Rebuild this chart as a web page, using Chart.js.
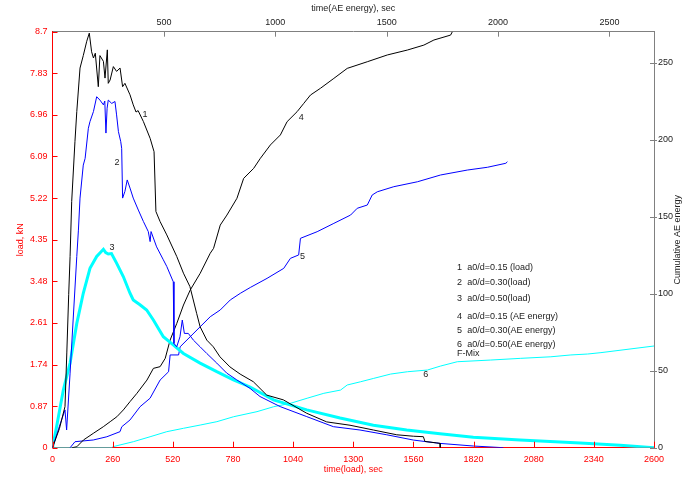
<!DOCTYPE html>
<html>
<head>
<meta charset="utf-8">
<script src="https://cdn.jsdelivr.net/npm/chart.js@4.4.1/dist/chart.umd.min.js"></script>
<style>
  body{margin:0;background:#fff}
</style>
</head>
<body>
<canvas id="myChart" width="689" height="479"></canvas>
<script>
// tick labels
var leftTicks = [0,0.87,1.74,2.61,3.48,4.35,5.22,6.09,6.96,7.83,8.7];
var bottomTicks = [0,260,520,780,1040,1300,1560,1820,2080,2340,2600];
var topTicks = [500,1000,1500,2000,2500];
var rightTicks = [0,50,100,150,200,250];

// 1 a0/d=0.15 (load)  - time(load) sec / kN
var load1Time = [0,30,54,62,70,76,83,97,105,119,133,148,159,169,177,185,198,205,220,227,237,241,249,263,277,292,303,313,335,349,361,370,393,422,439,447,465,494,537,566,594,623,638,667,695,724,767,811,868,926,998,1099,1185,1286,1387,1488,1560,1603,1610,1661,1675,1676];
var load1Value = [0,0.4,0.86,2.0,3.2,4.0,5.15,6.4,7.03,7.94,8.2,8.5,8.67,8.28,8.15,8.25,7.55,8.2,8.08,7.73,8.32,7.62,7.69,7.97,7.87,7.94,7.55,7.62,7.38,7.17,7.02,7.05,6.82,6.47,6.19,4.94,4.73,4.45,4.0,3.65,3.37,2.81,2.53,2.25,2.11,1.9,1.69,1.54,1.38,1.1,1.0,0.72,0.54,0.47,0.37,0.27,0.24,0.23,0.13,0.1,0.09,0];

// 2 a0/d=0.30 (load)
var load2Time = [0,30,54,61,76,105,112,119,133,141,155,162,177,191,205,220,226,231,236,241,256,270,277,285,295,299,303,313,323,335,349,371,393,414,422,426,450,479,494,522,525,537,551,561,570,587,609,638,667,710,753,796,854,897,984,1099,1214,1329,1445,1560,1675,1819,1949];
var load2Value = [0,0.45,0.79,0.37,1.56,4.0,4.55,5.22,5.91,6.05,6.68,6.82,7.03,7.34,7.27,7.17,7.25,6.58,7.1,7.27,7.2,7.24,6.96,6.61,6.4,6.26,5.22,5.36,5.6,5.43,5.22,4.97,4.73,4.52,4.31,4.52,4.2,3.93,3.79,3.47,2.18,2.11,2.32,2.67,2.39,2.39,2.25,2.11,1.97,1.77,1.56,1.42,1.24,1.07,0.86,0.65,0.44,0.37,0.27,0.16,0.09,0.035,0];

// 3 a0/d=0.50 (load)
var load3Time = [0,20,47,76,105,133,162,191,220,230,241,255,277,306,335,349,378,407,436,479,522,566,638,710,782,854,955,1099,1243,1387,1531,1675,1819,2021,2281,2454,2600];
var load3Value = [0,0.5,1.21,1.77,2.6,3.23,3.75,4.0,4.15,4.08,4.05,4.06,3.86,3.58,3.23,3.09,2.99,2.88,2.67,2.32,2.15,1.97,1.77,1.59,1.42,1.27,1.0,0.79,0.62,0.47,0.37,0.29,0.22,0.16,0.1,0.05,0];

// 4 a0/d=0.15 (AE energy) - time(AE energy) sec / cumulative AE
var ae4Time = [88,109,139,183,228,259,289,318,348,379,424,453,483,506,528,558,588,618,663,708,723,753,783,828,858,903,933,978,1023,1053,1098,1128,1158,1203,1263,1323,1413,1503,1593,1667,1712,1787,1795];
var ae4Value = [0,0.6,5,9.3,13.6,16.9,20.1,24.5,29.9,35.3,43.9,51.5,52.6,58,69.9,80.7,92.6,102.3,113.2,126.2,129.4,144.5,151,161.9,174.8,181.3,187.8,196.5,203,211.6,218.1,223.5,228.9,233.3,239.7,246.2,250.5,254.9,258.1,261.3,264.6,267.8,270];

// 5 a0/d=0.30 (AE energy)
var ae5Time = [79,101,183,244,303,311,348,393,438,483,521,528,566,573,618,663,708,753,798,843,888,963,1038,1068,1105,1113,1188,1263,1338,1368,1413,1435,1458,1532,1638,1742,1862,1952,2035,2042];
var ae5Value = [0,3.9,5,7.1,10.4,13.6,18,26.6,32.1,43.9,49.3,60.2,60.2,65.5,72,78.5,85,89.4,95.9,100.2,104,109.9,116.4,122.9,125.1,135.9,140.2,145.6,151,155.4,157.5,164,166.1,169.4,172.6,177,180.2,182,184.6,185.6];

// 6 a0/d=0.50 (AE energy)
var ae6Time = [0,266,270,363,438,513,588,663,738,813,918,993,1068,1143,1218,1293,1323,1383,1442,1518,1593,1683,1742,1817,1967,2102,2237,2327,2402,2462,2700];
var ae6Value = [0,0,0.6,3.9,7.1,10.4,12.6,14.7,16.9,20.1,23.4,26.6,28.8,32.1,35.3,37.4,40.7,42.8,45,47.8,49.3,50.4,53,55.8,56.9,58,59,60.2,60.8,61.7,66];

// curve numbers (load ones on bottom/left axes, AE ones on top/right axes)
var loadMarks = [{text:'1',t:400,v:6.96},{text:'2',t:279,v:5.96},{text:'3',t:257,v:4.18}];
var aeMarks = [{text:'4',t:1117,v:214},{text:'5',t:1122,v:124.4},{text:'6',t:1675,v:47.2}];

// legend lines, placed in load coordinates
var legendTime = 1749;
var legendLoad = [3.76,3.45,3.13,2.75,2.46,2.15,1.96];
var legendText = ['1  a0/d=0.15 (load)','2  a0/d=0.30(load)','3  a0/d=0.50(load)','4  a0/d=0.15 (AE energy)','5  a0/d=0.30(AE energy)','6  a0/d=0.50(AE energy)','F-Mix'];

var RED = '#ff0000';
var GREY = '#808080';
var FONT = {family:'"Liberation Sans", Arial, sans-serif', size:9};

function pts(t, v){
  return t.map(function(x,i){ return {x:x, y:v[i]}; });
}
function fixTicks(list){
  return function(scale){ scale.ticks = list.map(function(v){ return {value:v}; }); };
}
function plain(v){ return String(v); }

var extraDraw = {
  id:'extraDraw',
  afterDraw:function(chart){
    var ctx = chart.ctx, a = chart.chartArea, s = chart.scales;
    ctx.save();
    ctx.lineWidth = 1;

    // inward tick marks
    ctx.strokeStyle = RED;
    leftTicks.forEach(function(v){
      var y = Math.round(s.y.getPixelForValue(v))+0.5;
      ctx.beginPath(); ctx.moveTo(a.left,y); ctx.lineTo(a.left+5,y); ctx.stroke();
    });
    bottomTicks.forEach(function(v){
      var x = Math.round(s.x.getPixelForValue(v))+0.5;
      ctx.beginPath(); ctx.moveTo(x,a.bottom); ctx.lineTo(x,a.bottom-6); ctx.stroke();
    });
    ctx.strokeStyle = GREY;
    topTicks.forEach(function(v){
      var x = Math.round(s.x2.getPixelForValue(v))+0.5;
      ctx.beginPath(); ctx.moveTo(x,a.top); ctx.lineTo(x,a.top+5); ctx.stroke();
    });
    rightTicks.forEach(function(v){
      var y = Math.round(s.y2.getPixelForValue(v))+0.5;
      ctx.beginPath(); ctx.moveTo(a.right-4,y); ctx.lineTo(a.right+3,y); ctx.stroke();
    });

    ctx.font = FONT.size+'px '+FONT.family;
    ctx.fillStyle = '#222';

    // right axis title, reads bottom to top
    ctx.save();
    ctx.translate(678, (a.top+a.bottom)/2);
    ctx.rotate(-Math.PI/2);
    ctx.textAlign = 'center'; ctx.textBaseline = 'middle';
    ctx.fillText('Cumulative AE energy', 0, 0);
    ctx.restore();

    ctx.textAlign = 'center'; ctx.textBaseline = 'middle';
    loadMarks.forEach(function(m){
      ctx.fillText(m.text, s.x.getPixelForValue(m.t), s.y.getPixelForValue(m.v));
    });
    aeMarks.forEach(function(m){
      ctx.fillText(m.text, s.x2.getPixelForValue(m.t), s.y2.getPixelForValue(m.v));
    });

    ctx.textAlign = 'left';
    legendText.forEach(function(txt,i){
      ctx.fillText(txt, s.x.getPixelForValue(legendTime), s.y.getPixelForValue(legendLoad[i]));
    });
    ctx.restore();
  }
};

var chartData = {
  datasets:[
    {label:'1', data:pts(load1Time,load1Value), borderColor:'#000', borderWidth:1, xAxisID:'x', yAxisID:'y'},
    {label:'2', data:pts(load2Time,load2Value), borderColor:'#0000ff', borderWidth:1, xAxisID:'x', yAxisID:'y'},
    {label:'3', data:pts(load3Time,load3Value), borderColor:'#00ffff', borderWidth:3, xAxisID:'x', yAxisID:'y'},
    {label:'4', data:pts(ae4Time,ae4Value), borderColor:'#000', borderWidth:1, xAxisID:'x2', yAxisID:'y2'},
    {label:'5', data:pts(ae5Time,ae5Value), borderColor:'#0000ff', borderWidth:1, xAxisID:'x2', yAxisID:'y2'},
    {label:'6', data:pts(ae6Time,ae6Value), borderColor:'#00ffff', borderWidth:1, xAxisID:'x2', yAxisID:'y2'}
  ]
};

var chartConfig = {
  type:'line',
  data:chartData,
  options:{
    responsive:false,
    animation:false,
    layout:{padding:0},
    elements:{point:{radius:0}, line:{tension:0, fill:false}},
    plugins:{legend:{display:false}, tooltip:{enabled:false}},
    scales:{
      x:{
        type:'linear', position:'bottom', min:0, max:2600,
        afterBuildTicks:fixTicks(bottomTicks),
        afterFit:function(sc){ sc.height = 31.3; },
        grid:{display:false, drawTicks:false},
        border:{color:RED, width:1},
        ticks:{color:RED, font:FONT, padding:6, maxRotation:0, autoSkip:false, callback:plain},
        title:{display:true, text:'time(load), sec', color:RED, font:FONT, padding:{top:0,bottom:3.6}}
      },
      x2:{
        type:'linear', position:'top', min:0, max:2700,
        afterBuildTicks:fixTicks(topTicks),
        afterFit:function(sc){ sc.height = 31.7; },
        grid:{display:false, drawTicks:false},
        border:{color:GREY, width:1},
        ticks:{color:'#222', font:FONT, padding:4, maxRotation:0, autoSkip:false, callback:plain},
        title:{display:true, text:'time(AE energy), sec', color:'#222', font:FONT, padding:{top:3,bottom:0}}
      },
      y:{
        type:'linear', position:'left', min:0, max:8.7,
        afterBuildTicks:fixTicks(leftTicks),
        afterFit:function(sc){ sc.width = 52.5; },
        grid:{display:false, drawTicks:false},
        border:{color:RED, width:1},
        ticks:{color:RED, font:FONT, padding:5, autoSkip:false, callback:plain},
        title:{display:true, text:'load, kN', color:RED, font:FONT, padding:{top:15.6,bottom:0}}
      },
      y2:{
        type:'linear', position:'right', min:0, max:270,
        afterBuildTicks:fixTicks(rightTicks),
        afterFit:function(sc){ sc.width = 35; },
        grid:{display:false, drawTicks:false},
        border:{color:GREY, width:1},
        ticks:{color:'#222', font:FONT, padding:4, autoSkip:false, callback:plain}
      }
    }
  },
  plugins:[extraDraw]
};

var myChart = new Chart(document.getElementById('myChart'), chartConfig);
</script>
</body>
</html>
